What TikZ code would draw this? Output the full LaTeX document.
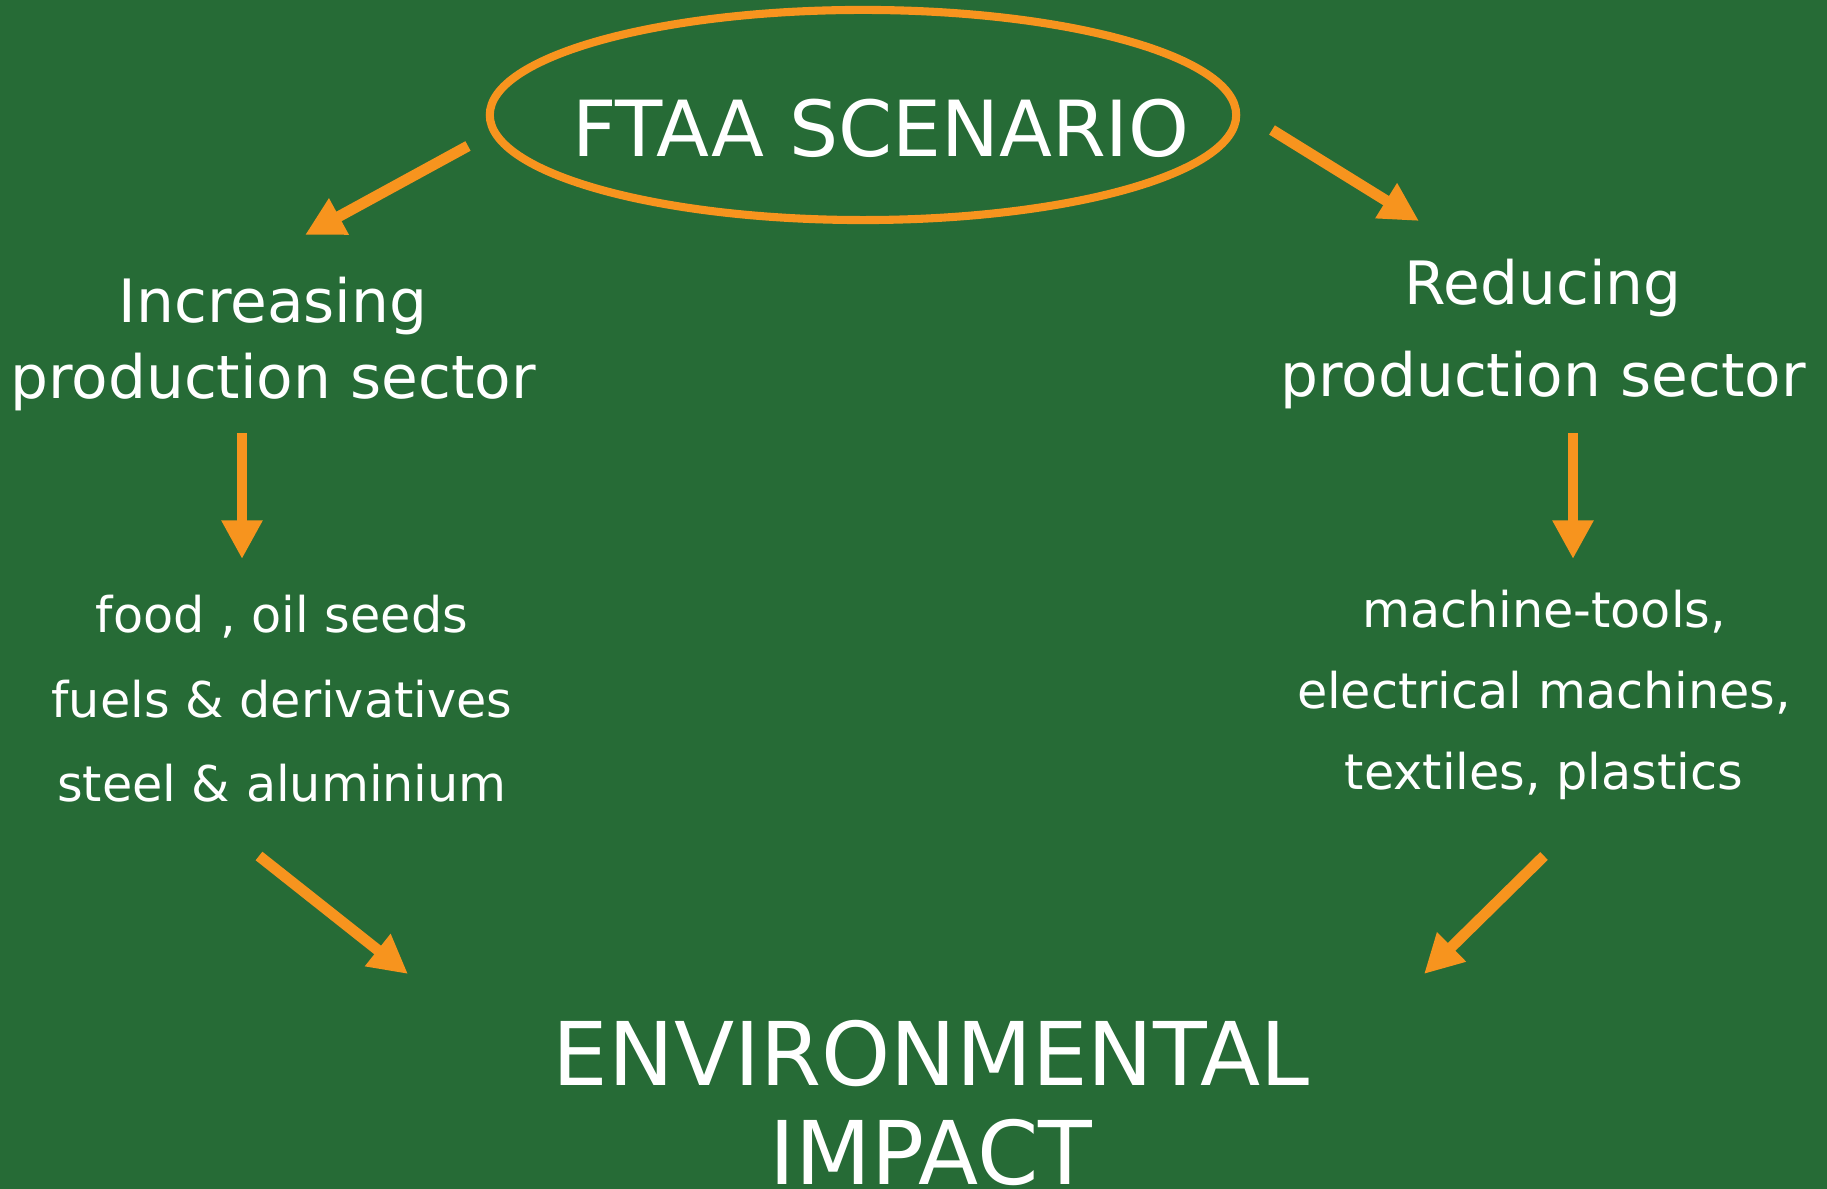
\documentclass[tikz,border=0pt]{standalone}
\usepackage{fontspec}
\setmainfont{DejaVu Sans}
\usetikzlibrary{arrows.meta,shapes.geometric}
\definecolor{board}{RGB}{38,107,54}
\definecolor{chalk}{RGB}{247,148,30}

\begin{document}
\begin{tikzpicture}[
    x=0.01cm, y=-0.01cm,
    oval/.style={draw=chalk, line width=2.3pt, ellipse, minimum width=7.46cm, minimum height=2.1cm},
    head/.style={text=white, font=\fontsize{22}{26}\selectfont},
    sector/.style={text=white, align=center, font=\fontsize{17}{21.6}\selectfont},
    goods/.style={text=white, align=center, font=\fontsize{14}{24}\selectfont},
    impact/.style={text=white, align=center, font=\fontsize{25}{28}\selectfont},
    arrow/.style={-{Triangle[length=11pt, width=11pt]}, line width=3.1pt, draw=chalk}
]
    \fill[board] (0,0) rectangle (1827,1189);
    \useasboundingbox (0,0) rectangle (1827,1189);

    \node[oval] (scenario) at (863,115) {};
    \node[head] (title) at (881,128) {FTAA SCENARIO};
    \node[sector] (incr) at (273,344) {Increasing\\production sector};
    \node[sector, font=\fontsize{17}{26}\selectfont] (reduc) at (1543,334) {Reducing\\production sector};
    \node[goods] (food) at (282,699) {food , oil seeds\\fuels \& derivatives\\steel \& aluminium};
    \node[goods, font=\fontsize{14}{23}\selectfont] (mach) at (1544,695) {machine-tools,\\electrical machines,\\textiles, plastics};
    \node[impact] (env) at (931,1103) {ENVIRONMENTAL\\IMPACT};

    % arrow ends
    \coordinate (s1) at (468,146);   \coordinate (e1) at (305,235);
    \coordinate (s2) at (1272,130);  \coordinate (e2) at (1419,221);
    \coordinate (s3) at (242,433);   \coordinate (e3) at (242,559);
    \coordinate (s4) at (1573,433);  \coordinate (e4) at (1573,559);
    \coordinate (s5) at (259,856);   \coordinate (e5) at (408,974);
    \coordinate (s6) at (1544,856);  \coordinate (e6) at (1424,974);

    \draw[arrow] (s1) -- (e1);
    \draw[arrow] (s2) -- (e2);
    \draw[arrow] (s3) -- (e3);
    \draw[arrow] (s4) -- (e4);
    \draw[arrow] (s5) -- (e5);
    \draw[arrow] (s6) -- (e6);
\end{tikzpicture}
\end{document}
